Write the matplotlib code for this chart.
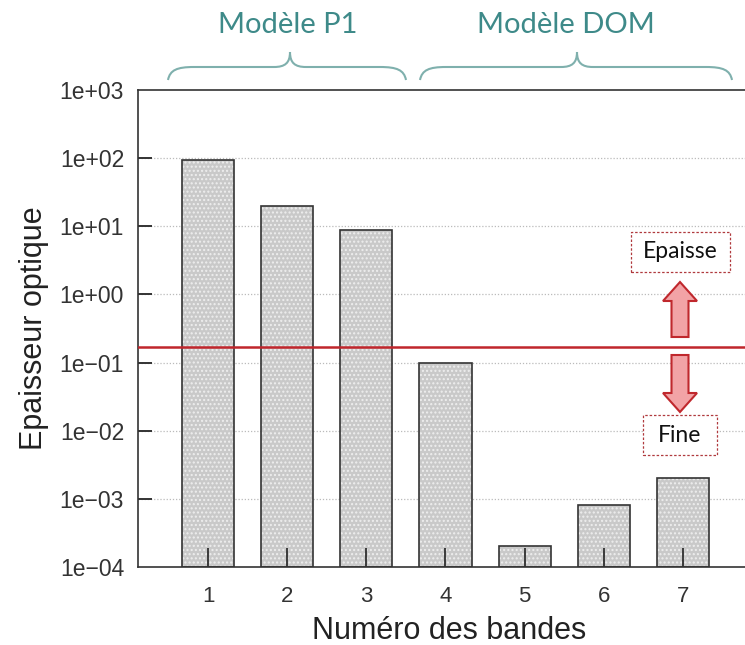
import matplotlib.pyplot as plt
import numpy as np
from matplotlib.path import Path
from matplotlib.patches import PathPatch, Polygon, FancyBboxPatch

plt.rcParams["font.family"] = ["Liberation Sans", "DejaVu Sans"]

bands = [1, 2, 3, 4, 5, 6, 7]
thickness = [93, 20, 8.7, 0.1, 2.0e-4, 8.0e-4, 2.0e-3]
threshold = 0.17
ytick_vals = [1e-4, 1e-3, 1e-2, 1e-1, 1e0, 1e1, 1e2, 1e3]
ytick_labels = ["1e\u221204", "1e\u221203", "1e\u221202", "1e\u221201",
                "1e+00", "1e+01", "1e+02", "1e+03"]
groups = ["Modèle P1", "Modèle DOM"]

W, H = 745, 645
fig = plt.figure(figsize=(W / 100, H / 100), dpi=100)


def fx(x):
    return x / W


def fy(y):
    return 1 - y / H


ax = fig.add_axes([fx(138), fy(567), 1 - fx(138), (567 - 90) / H])
ax.set_yscale("log")
ax.set_ylim(1e-4, 1e3)
ax.set_xlim(0.114, 7.785)

bottom = 1e-4
heights = [v - bottom for v in thickness]
ax.bar(bands, heights, bottom=bottom, width=0.66, color="#c9c9c9",
       edgecolor="#eeeeee", hatch="....", linewidth=0, zorder=1)
ax.bar(bands, heights, bottom=bottom, width=0.66, fill=False,
       edgecolor="#333333", linewidth=1.2, zorder=1.2)

# dotted decade grid, behind the bars
for v in ytick_vals[1:-1]:
    ax.axhline(v, color="#bbbbbb", lw=0.9, ls=(0, (1, 1.5)), zorder=0.5)

# short inward ticks on the left spine
ax.hlines(ytick_vals[1:-1], 0, 14 / (W - 138), transform=ax.get_yaxis_transform(),
          color="#333333", lw=1.4, zorder=3)

ax.axhline(threshold, color="#c0262c", lw=1.8, zorder=4)

ax.set_yticks(ytick_vals)
ax.set_yticklabels(ytick_labels)
ax.yaxis.set_minor_locator(plt.NullLocator())
ax.set_xticks(bands)
ax.tick_params(axis="y", which="both", length=0, labelsize=16.5,
               labelcolor="#333333", pad=10)
ax.tick_params(axis="x", direction="in", length=14, width=1.2, color="#222222",
               labelsize=16, labelcolor="#333333", pad=14)
ax.set_xlabel("Numéro des bandes", fontsize=22, color="#222222", labelpad=6)
ax.xaxis.label.set_x(0.513)
ax.set_ylabel("Epaisseur optique", fontsize=22, color="#222222", labelpad=8)

ax.spines["right"].set_visible(False)
for s in ["left", "bottom", "top"]:
    ax.spines[s].set_color("#333333")
    ax.spines[s].set_linewidth(1.2)


def brace(x0, x1, xm, yend=80, ymid=67, ytip=52, color="#7fb0ad"):
    pts = [(x0, yend), (x0 + 2, ymid + 3), (x0 + 9, ymid), (x0 + 26, ymid),
           (xm - 16, ymid),
           (xm - 5, ymid), (xm, ymid - 4), (xm, ytip),
           (xm, ymid - 4), (xm + 5, ymid), (xm + 16, ymid),
           (x1 - 26, ymid),
           (x1 - 9, ymid), (x1 - 2, ymid + 3), (x1, yend)]
    codes = [Path.MOVETO, Path.CURVE4, Path.CURVE4, Path.CURVE4,
             Path.LINETO,
             Path.CURVE4, Path.CURVE4, Path.CURVE4,
             Path.CURVE4, Path.CURVE4, Path.CURVE4,
             Path.LINETO,
             Path.CURVE4, Path.CURVE4, Path.CURVE4]
    verts = [(fx(x), fy(y)) for x, y in pts]
    fig.patches.append(PathPatch(Path(verts, codes), transform=fig.transFigure,
                                 fill=False, edgecolor=color, lw=1.5))


brace(168, 406, 290)
brace(420, 732, 577)
fig.text(fx(288), fy(25), groups[0], ha="center", va="center", fontsize=21,
         color="#3e8a89", family=["Lato", "DejaVu Sans"])
fig.text(fx(566), fy(25), groups[1], ha="center", va="center", fontsize=21,
         color="#3e8a89", family=["Lato", "DejaVu Sans"])


def arrow(tip_y, head_y, tail_y, cx=680, hw=17, sw=8.5):
    pts = [(cx, tip_y), (cx + hw, head_y), (cx + sw, head_y), (cx + sw, tail_y),
           (cx - sw, tail_y), (cx - sw, head_y), (cx - hw, head_y)]
    fig.patches.append(Polygon([(fx(x), fy(y)) for x, y in pts], closed=True,
                               transform=fig.transFigure, facecolor="#f2a3a6",
                               edgecolor="#c0282d", lw=1.5, zorder=5))


arrow(282, 301, 337)
arrow(412, 393, 355)


def label_box(cx, cy, w, h, text):
    fig.patches.append(FancyBboxPatch((fx(cx - w / 2), fy(cy + h / 2)), w / W, h / H,
                                      boxstyle="square,pad=0", transform=fig.transFigure,
                                      facecolor="white", edgecolor="#b03a3e",
                                      lw=0.9, ls=(0, (2, 1.5)), zorder=5))
    fig.text(fx(cx), fy(cy), text, ha="center", va="center", fontsize=16.5,
             color="#111111", family=["Lato", "DejaVu Sans"], zorder=6)


label_box(680, 252, 99, 40, "Epaisse")
label_box(680, 435, 74, 40, "Fine")

fig.savefig("out.png", dpi=100)
